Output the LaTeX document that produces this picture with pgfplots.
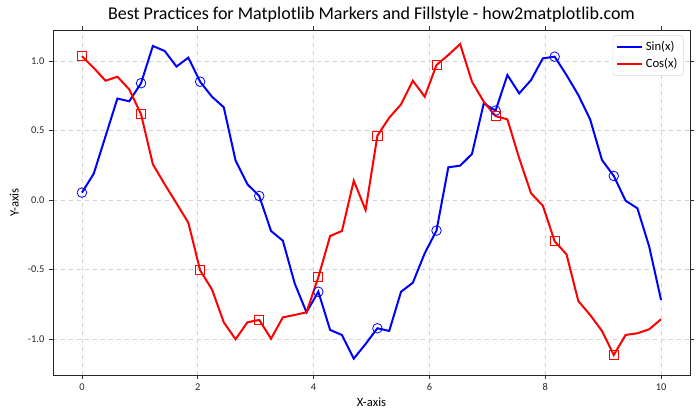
\documentclass[border=0pt]{standalone}
\usepackage{fontspec}
\setmainfont{Carlito}
\usepackage{pgfplots}
\pgfplotsset{compat=1.18}
\usepackage{pgfplotstable}
\pgfplotstableread{
x sin cos
0.0000 0.053 1.035
0.2041 0.190 0.950
0.4082 0.460 0.858
0.6122 0.730 0.887
0.8163 0.710 0.796
1.0204 0.840 0.617
1.2245 1.108 0.257
1.4286 1.072 0.113
1.6327 0.960 -0.024
1.8367 1.024 -0.163
2.0408 0.851 -0.506
2.2449 0.743 -0.643
2.4490 0.667 -0.880
2.6531 0.283 -1.002
2.8571 0.113 -0.880
3.0612 0.029 -0.863
3.2653 -0.223 -0.998
3.4694 -0.293 -0.844
3.6735 -0.600 -0.827
3.8776 -0.808 -0.808
4.0816 -0.660 -0.556
4.2857 -0.935 -0.259
4.4898 -0.971 -0.223
4.6939 -1.141 0.139
4.8980 -1.036 -0.072
5.1020 -0.923 0.463
5.3061 -0.942 0.592
5.5102 -0.660 0.688
5.7143 -0.595 0.858
5.9184 -0.384 0.743
6.1224 -0.220 0.971
6.3265 0.235 1.043
6.5306 0.247 1.122
6.7347 0.331 0.851
6.9388 0.695 0.707
7.1429 0.643 0.604
7.3469 0.899 0.580
7.5510 0.767 0.300
7.7551 0.863 0.048
7.9592 1.019 -0.041
8.1633 1.031 -0.297
8.3673 0.899 -0.391
8.5714 0.755 -0.727
8.7755 0.580 -0.827
8.9796 0.288 -0.942
9.1837 0.173 -1.115
9.3878 -0.005 -0.971
9.5918 -0.060 -0.959
9.7959 -0.336 -0.930
10.0000 -0.719 -0.858
}\datatable
\begin{document}
\begin{tikzpicture}
\begin{axis}[
  scale only axis,
  width=477.75pt, height=258.75pt,
  xmin=-0.5, xmax=10.5, ymin=-1.259, ymax=1.223,
  xtick={0,2,4,6,8,10},
  ytick={-1,-0.5,0,0.5,1},
  yticklabel style={/pgf/number format/.cd,fixed,fixed zerofill,precision=1},
  /pgf/number format/assume math mode=true,
  tick label style={font=\fontsize{7.8}{9}\selectfont, text=black!85},
  tick align=outside,
  major tick length=3pt,
  tick style={black!80, line width=0.6pt},
  axis line style={black!85, line width=0.6pt},
  grid=major,
  major grid style={dashed, gray!35, line width=0.5pt},
  xlabel={X-axis}, ylabel={Y-axis},
  label style={font=\fontsize{9.5}{11}\selectfont},
  xlabel style={yshift=2pt},
  ylabel style={yshift=0pt},
  title={Best Practices for Matplotlib Markers and Fillstyle - how2matplotlib.com},
  title style={font=\fontsize{13.5}{15}\selectfont, yshift=-4pt},
  legend style={at={(0.99,0.985)}, anchor=north east, font=\fontsize{9.5}{11}\selectfont,
    draw=black!15, rounded corners=2pt, fill=white, inner sep=2.5pt, row sep=0pt},
  legend cell align=left,
  legend image code/.code={\draw[#1, mark=none] (0cm,0cm) -- (0.66cm,0cm);},
]
\addplot[blue, line width=1.5pt, mark=o, mark repeat=5, mark size=3.6pt,
  mark options={line width=0.6pt, fill=none, solid}] table[x=x,y=sin] {\datatable};
\addlegendentry{Sin(x)}
\addplot[red, line width=1.5pt, mark=square, mark repeat=5, mark size=3.4pt,
  mark options={line width=0.6pt, fill=none, solid}] table[x=x,y=cos] {\datatable};
\addlegendentry{Cos(x)}
\end{axis}
\pgfresetboundingbox
\path (-39.75pt,-33.75pt) rectangle (485.25pt,281.25pt);
\end{tikzpicture}
\end{document}
